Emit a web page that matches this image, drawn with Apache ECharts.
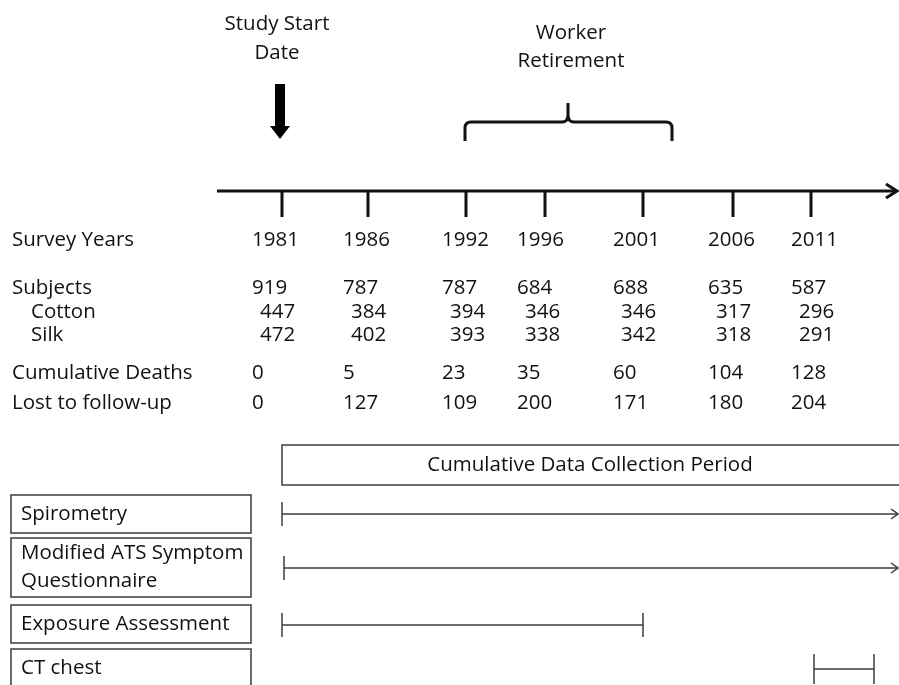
<!DOCTYPE html>
<html>
<head>
<meta charset="utf-8">
<script src="https://cdn.jsdelivr.net/npm/echarts@6/dist/echarts.min.js"></script>
<style>
  html, body { margin: 0; padding: 0; background: #fff; }
  #main { width: 899px; height: 685px; }
</style>
</head>
<body>
<div id="main"></div>
<script>
// table content
const years = ['1981', '1986', '1992', '1996', '2001', '2006', '2011']
const subjects = [919, 787, 787, 684, 688, 635, 587]
const cotton = [447, 384, 394, 346, 346, 317, 296]
const silk = [472, 402, 393, 338, 342, 318, 291]
const deaths = [0, 5, 23, 35, 60, 104, 128]
const lost = [0, 127, 109, 200, 171, 180, 204]
const rowLabels = ['Survey Years', 'Subjects', 'Cotton', 'Silk', 'Cumulative Deaths', 'Lost to follow-up']
const methods = ['Spirometry', 'Modified ATS Symptom\nQuestionnaire', 'Exposure Assessment', 'CT chest']

// layout (pixel space of the hidden axes)
const tickX = [282, 368, 466, 545, 643, 733, 811]
const colX = [252, 343, 442, 517, 613, 708, 791]
const rowY = [240, 288, 312, 335, 373, 403]
const rowIndent = [0, 0, 19, 19, 0, 0]
const colIndent = [0, 0, 8, 8, 0, 0]
const boxY = [[495, 533], [538, 597], [605, 643], [649, 695]]
const spans = [
    // x0, x1, y, half height of end bars, open arrow at end
    [282, 898, 514, 12, true],
    [284, 898, 568, 12, true],
    [282, 643, 625, 12, false],
    [814, 874, 669, 15, false]
]

const FONT = '"Open Sans", "Noto Sans", sans-serif'
const SIZE = 20.5
const INK = '#111'
const LINE = '#3c3c3c'

const rows = [years, subjects, cotton, silk, deaths, lost]

function txt(api, x, y, text, extra) {
    const p = api.coord([x, y])
    return {
        type: 'text',
        x: p[0],
        y: p[1],
        style: Object.assign({
            text: text,
            fill: INK,
            fontFamily: FONT,
            fontSize: SIZE,
            align: 'left',
            verticalAlign: 'middle'
        }, extra || {})
    }
}

function seg(api, a, b, width, color) {
    const p = api.coord(a)
    const q = api.coord(b)
    return {
        type: 'line',
        shape: { x1: p[0], y1: p[1], x2: q[0], y2: q[1] },
        style: { stroke: color || INK, lineWidth: width }
    }
}

// cells of the table
const cells = []
rows.forEach((row, r) => {
    cells.push([12 + rowIndent[r], rowY[r], r, -1])
    row.forEach((v, c) => cells.push([colX[c] + colIndent[r], rowY[r], r, c]))
})

const chart = echarts.init(document.getElementById('main'))

const option = {
    animation: false,
    backgroundColor: '#fff',
    grid: { left: 0, right: 0, top: 0, bottom: 0 },
    xAxis: { type: 'value', min: 0, max: 899, show: false },
    yAxis: { type: 'value', min: 0, max: 685, inverse: true, show: false },
    series: [
        {
            // main time axis
            type: 'custom',
            clip: false,
            data: [[217, 897, 191]],
            renderItem: (params, api) => {
                const x0 = api.value(0), x1 = api.value(1), y = api.value(2)
                const a = api.coord([x1 - 11, y - 7]), t = api.coord([x1, y]), b = api.coord([x1 - 11, y + 7])
                return {
                    type: 'group',
                    children: [
                        seg(api, [x0, y], [x1 - 1, y], 3),
                        {
                            type: 'polyline',
                            shape: { points: [a, t, b] },
                            style: { stroke: INK, lineWidth: 3, fill: null }
                        }
                    ]
                }
            }
        },
        {
            // survey year ticks
            type: 'custom',
            clip: false,
            data: tickX.map(x => [x, 191]),
            renderItem: (params, api) => seg(api, [api.value(0), api.value(1)], [api.value(0), api.value(1) + 26], 3)
        },
        {
            // annotations above the axis
            type: 'custom',
            clip: false,
            data: [[280, 568]],
            renderItem: (params, api) => {
                const ax = api.value(0), bx = api.value(1)
                const arrow = [
                    [ax - 5, 84], [ax + 5, 84], [ax + 5, 126], [ax + 10, 126],
                    [ax, 139], [ax - 10, 126], [ax - 5, 126]
                ].map(p => api.coord(p))
                const c = pt => api.coord(pt).join(' ')
                const d = 'M' + c([465, 141]) + ' L' + c([465, 128]) + ' Q' + c([465, 122]) + ' ' + c([471, 122]) +
                    ' L' + c([bx - 6, 122]) + ' Q' + c([bx, 122]) + ' ' + c([bx, 115]) + ' L' + c([bx, 103]) +
                    ' M' + c([bx, 115]) + ' Q' + c([bx, 122]) + ' ' + c([bx + 6, 122]) +
                    ' L' + c([666, 122]) + ' Q' + c([672, 122]) + ' ' + c([672, 128]) + ' L' + c([672, 141])
                return {
                    type: 'group',
                    children: [
                        { type: 'polygon', shape: { points: arrow }, style: { fill: '#000' } },
                        { type: 'path', shape: { pathData: d }, style: { stroke: INK, lineWidth: 3, fill: null } },
                        txt(api, ax - 3, 24, 'Study Start', { align: 'center' }),
                        txt(api, ax - 3, 53, 'Date', { align: 'center' }),
                        txt(api, bx + 3, 33, 'Worker', { align: 'center' }),
                        txt(api, bx + 3, 61, 'Retirement', { align: 'center' })
                    ]
                }
            }
        },
        {
            // table of counts
            type: 'custom',
            clip: false,
            data: cells,
            renderItem: (params, api) => {
                const r = api.value(2), c = api.value(3)
                const label = c < 0 ? rowLabels[r] : String(rows[r][c])
                return txt(api, api.value(0), api.value(1), label)
            }
        },
        {
            // cumulative data collection period box
            type: 'custom',
            clip: false,
            data: [[282, 445, 910, 485]],
            renderItem: (params, api) => {
                const p = api.coord([api.value(0), api.value(1)])
                const q = api.coord([api.value(2), api.value(3)])
                return {
                    type: 'group',
                    children: [
                        {
                            type: 'rect',
                            shape: { x: p[0], y: p[1], width: q[0] - p[0], height: q[1] - p[1] },
                            style: { stroke: LINE, lineWidth: 1.5, fill: null }
                        },
                        txt(api, 590, 465, 'Cumulative Data Collection Period', { align: 'center' })
                    ]
                }
            }
        },
        {
            // method boxes
            type: 'custom',
            clip: false,
            data: boxY.map(b => [11, b[0], 251, b[1]]),
            renderItem: (params, api) => {
                const p = api.coord([api.value(0), api.value(1)])
                const q = api.coord([api.value(2), api.value(3)])
                const lines = methods[params.dataIndex].split('\n')
                const mid = (api.value(1) + Math.min(api.value(3), 689)) / 2
                const children = [{
                    type: 'rect',
                    shape: { x: p[0], y: p[1], width: q[0] - p[0], height: q[1] - p[1] },
                    style: { stroke: LINE, lineWidth: 1.5, fill: null }
                }]
                lines.forEach((l, i) => {
                    const y = lines.length === 1 ? api.value(1) + 19 : mid + (i - 0.5) * 28
                    children.push(txt(api, 21, y, l))
                })
                return { type: 'group', children: children }
            }
        },
        {
            // collection spans
            type: 'custom',
            clip: false,
            data: spans.map(s => [s[0], s[1], s[2], s[3], s[4] ? 1 : 0]),
            renderItem: (params, api) => {
                const x0 = api.value(0), x1 = api.value(1), y = api.value(2), h = api.value(3)
                const children = [
                    seg(api, [x0, y], [x1, y], 1.5, LINE),
                    seg(api, [x0, y - h], [x0, y + h], 1.5, LINE)
                ]
                if (api.value(4)) {
                    children.push({
                        type: 'polyline',
                        shape: { points: [api.coord([x1 - 7, y - 5]), api.coord([x1, y]), api.coord([x1 - 7, y + 5])] },
                        style: { stroke: LINE, lineWidth: 1.5, fill: null }
                    })
                } else {
                    children.push(seg(api, [x1, y - h], [x1, y + h], 1.5, LINE))
                }
                return { type: 'group', children: children }
            }
        }
    ]
}

chart.setOption(option)
</script>
</body>
</html>
